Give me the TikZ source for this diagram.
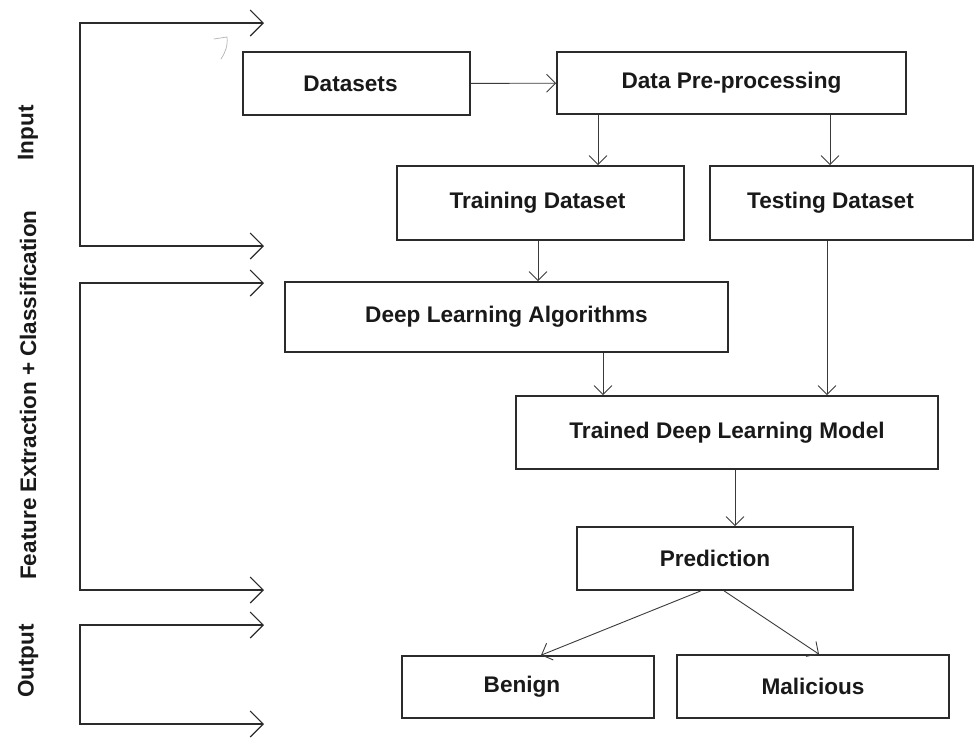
\documentclass[tikz,border=0pt]{standalone}
\usepackage{fontspec}
\setmainfont{Liberation Sans}
\usetikzlibrary{arrows.meta}
\definecolor{ink}{HTML}{2B2B2B}
\definecolor{lineink}{HTML}{3A3A3A}
\begin{document}
\begin{tikzpicture}[x=1pt,y=-1pt,
  box/.style={draw=ink, line width=1.6pt, inner sep=0pt, text=black!90,
    font=\bfseries\fontsize{22.6}{26}\selectfont},
  conn/.style={draw=lineink, line width=0.9pt,
    -{Straight Barb[length=9pt,width=18pt,line width=0.9pt]}},
  brk/.style={draw=ink, line width=1.8pt,
    {Straight Barb[length=13pt,width=26pt,line width=1.1pt]}-{Straight Barb[length=13pt,width=26pt,line width=1.1pt]}},
  side/.style={rotate=90, text=black!90, font=\bfseries\fontsize{22.5}{26}\selectfont}]
\useasboundingbox (0,0) rectangle (975,737);
% boxes
\node[box, minimum width=227pt, minimum height=63pt] (ds) at (356.5,83.5) {\hspace*{-12pt}Datasets};
\node[box, minimum width=349pt, minimum height=62pt] (dpp) at (731.5,83) {Data Pre-processing};
\node[box, minimum width=287pt, minimum height=74pt] (tr) at (540.5,203) {\hspace*{-6pt}Training Dataset};
\node[box, minimum width=263pt, minimum height=74pt] (te) at (841.5,203) {\hspace*{-22pt}Testing Dataset};
\node[box, minimum width=443pt, minimum height=70pt] (dla) at (506.5,317) {Deep Learning Algorithms};
\node[box, minimum width=422pt, minimum height=73pt] (tdlm) at (727,432.5) {Trained Deep Learning Model};
\node[box, minimum width=276pt, minimum height=63pt] (pred) at (715,558.5) {Prediction};
\node[box, minimum width=252pt, minimum height=62pt] (ben) at (528,687) {\hspace*{-12pt}Benign};
\node[box, minimum width=272pt, minimum height=63pt] (mal) at (813,686.5) {Malicious};
% helper x positions
\coordinate (x598) at (598,0);
\coordinate (x830) at (830,0);
\coordinate (x538) at (538,0);
\coordinate (x603) at (603,0);
\coordinate (x827) at (827,0);
\coordinate (x735) at (735,0);
\coordinate (x701) at (701,0);
\coordinate (x724) at (724,0);
\coordinate (x541) at (541,0);
\coordinate (x819) at (819,0);
% connectors
\draw[conn] (ds) -- (dpp);
\draw[conn] (dpp.south -| x598) -- (tr.north -| x598);
\draw[conn] (dpp.south -| x830) -- (te.north -| x830);
\draw[conn] (tr.south -| x538) -- (dla.north -| x538);
\draw[conn] (dla.south -| x603) -- (tdlm.north -| x603);
\draw[conn] (te.south -| x827) -- (tdlm.north -| x827);
\draw[conn] (tdlm.south -| x735) -- (pred.north -| x735);
\draw[conn] (pred.south -| x701) -- (ben.north -| x541);
\draw[conn] (pred.south -| x724) -- (mal.north -| x819);
% side brackets
\coordinate (inA) at (264,23);
\coordinate (inB) at (264,246);
\coordinate (feA) at (264,283);
\coordinate (feB) at (264,590);
\coordinate (ouA) at (264,625);
\coordinate (ouB) at (264,724);
\draw[brk] (inA) -- (80,23) -- (80,246) -- (inB);
\draw[brk] (feA) -- (80,283) -- (80,590) -- (feB);
\draw[brk] (ouA) -- (80,625) -- (80,724) -- (ouB);
% side labels
\node[side] (lin) at (28,133) {Input};
\node[side] (lfe) at (28,395) {Feature Extraction + Classification};
\node[side] (lou) at (28,661) {Output};
% faint stray mark
\draw[black!30, line width=0.7pt, line cap=round] (214,39) -- (227,37) .. controls (228,46) and (225,53) .. (221,59);
\end{tikzpicture}
\end{document}
